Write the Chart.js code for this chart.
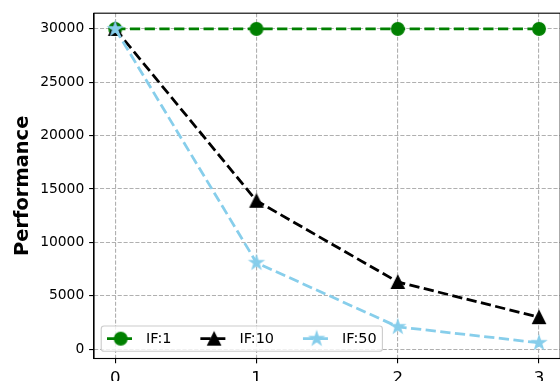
<!DOCTYPE html>
<html>
<head>
<meta charset="utf-8">
<script src="https://cdn.jsdelivr.net/npm/chart.js@4"></script>
<style>
body { margin: 0; overflow: hidden; background: #fff; }
</style>
</head>
<body>
<canvas id="chart" width="570" height="381"></canvas>
<script>
// data
const xValues = [0, 1, 2, 3];
const xTicks = [0, 1, 2, 3];
const xTickLabels = ['0', '1', '2', '3'];
const yTicks = [0, 5000, 10000, 15000, 20000, 25000, 30000];
const yTickLabels = ['0', '5000', '10000', '15000', '20000', '25000', '30000'];
const seriesNames = ['IF:1', 'IF:10', 'IF:50'];
const if1 = [30000, 30000, 30000, 30000];
const if10 = [30000, 13900, 6300, 3000];
const if50 = [30000, 8100, 2100, 600];

const PT = 100 / 72;
const FONT = 'DejaVu Sans';

function markerCanvas(shape, color) {
    const c = document.createElement('canvas');
    c.width = 22; c.height = 22;
    const g = c.getContext('2d');
    const r = 9 * PT / 2;
    g.translate(11, 11);
    g.beginPath();
    if (shape == 'circle') {
        g.arc(0, 0, r, 0, Math.PI * 2);
    } else if (shape == 'triangle') {
        g.moveTo(0, -r); g.lineTo(-r, r); g.lineTo(r, r); g.closePath();
    } else {
        const rs = r * 1.1;
        for (let i = 0; i < 10; i++) {
            const rr = i % 2 ? rs * 0.381966 : rs;
            const a = -Math.PI / 2 + i * Math.PI / 5;
            if (i == 0) g.moveTo(rr * Math.cos(a), rr * Math.sin(a));
            else g.lineTo(rr * Math.cos(a), rr * Math.sin(a));
        }
        g.closePath();
    }
    g.fillStyle = color;
    g.fill();
    g.lineWidth = PT;
    g.strokeStyle = color;
    g.stroke();
    return c;
}

function makeSeries(name, values, color, shape, order) {
    return {
        label: name,
        data: xValues.map((x, i) => ({x: x, y: values[i]})),
        borderColor: color,
        backgroundColor: color,
        borderWidth: 2 * PT,
        borderDash: [3.7 * 2 * PT, 1.6 * 2 * PT],
        pointStyle: markerCanvas(shape, color),
        pointRadius: 7,
        tension: 0,
        order: order
    };
}

const gridOpts = {
    color: '#b0b0b0',
    lineWidth: 0.8 * PT,
    tickColor: '#000',
    tickLength: 3.5 * PT,
    tickWidth: 0.8 * PT,
    tickBorderDash: []
};
const borderOpts = {color: '#000', width: 0.8 * PT, dash: [3.7 * 0.8 * PT, 1.6 * 0.8 * PT]};

const frame = {
    id: 'frame',
    afterDatasetsDraw(chart) {
        const {ctx, chartArea: a} = chart;
        ctx.save();
        ctx.strokeStyle = '#000';
        ctx.lineWidth = 0.8 * PT;
        ctx.strokeRect(a.left, a.top, a.right - a.left, a.bottom - a.top);
        ctx.restore();
    }
};

const legendBox = {
    id: 'legendBox',
    afterDatasetsDraw(chart) {
        const {ctx, chartArea: a} = chart;
        const fs = 10.4 * PT;
        const pad = 0.4 * fs, handle = 1.9 * fs, gap = 0.8 * fs, colSp = 2 * fs, axPad = 0.5 * fs;
        ctx.save();
        ctx.font = fs + 'px "' + FONT + '"';
        const sets = chart.data.datasets;
        const widths = sets.map(d => ctx.measureText(d.label).width);
        let w = 2 * pad + colSp * (sets.length - 1);
        widths.forEach(t => { w += handle + gap + t; });
        const h = 1.75 * fs;
        const x0 = a.left + axPad;
        const y1 = a.bottom - axPad;
        const y0 = y1 - h;
        ctx.beginPath();
        ctx.roundRect(x0, y0, w, h, 0.2 * fs);
        ctx.fillStyle = 'rgba(255,255,255,0.8)';
        ctx.fill();
        ctx.strokeStyle = '#cccccc';
        ctx.lineWidth = 0.8 * PT;
        ctx.stroke();
        const cy = (y0 + y1) / 2;
        let x = x0 + pad;
        sets.forEach((d, i) => {
            ctx.save();
            ctx.strokeStyle = d.borderColor;
            ctx.lineWidth = d.borderWidth;
            ctx.setLineDash(d.borderDash);
            ctx.beginPath();
            ctx.moveTo(x, cy);
            ctx.lineTo(x + handle, cy);
            ctx.stroke();
            ctx.restore();
            const m = d.pointStyle;
            ctx.drawImage(m, x + handle / 2 - m.width / 2, cy - m.height / 2);
            ctx.fillStyle = '#000';
            ctx.textBaseline = 'middle';
            ctx.fillText(d.label, x + handle + gap, cy + 1);
            x += handle + gap + widths[i] + colSp;
        });
        ctx.restore();
    }
};

const ctx = document.getElementById('chart').getContext('2d');
const chart = new Chart(ctx, {
    type: 'line',
    data: {
        datasets: [
            makeSeries(seriesNames[0], if1, 'green', 'circle', 3),
            makeSeries(seriesNames[1], if10, '#000000', 'triangle', 2),
            makeSeries(seriesNames[2], if50, '#87CEEB', 'star', 1)
        ]
    },
    options: {
        responsive: false,
        animation: false,
        events: [],
        layout: {padding: {left: 0, top: 11.5, right: 8.75, bottom: 0}},
        plugins: {legend: {display: false}, tooltip: {enabled: false}},
        scales: {
            x: {
                type: 'linear',
                min: -0.15,
                max: 3.15,
                afterBuildTicks: s => { s.ticks = xTicks.map(v => ({value: v})); },
                afterFit: s => { s.height = 22.5; },
                ticks: {
                    font: {family: FONT, size: 12 * PT},
                    color: '#000',
                    padding: 3.5 * PT,
                    maxRotation: 0,
                    autoSkip: false,
                    callback: (v, i) => xTickLabels[i]
                },
                grid: gridOpts,
                border: borderOpts
            },
            y: {
                type: 'linear',
                min: -870,
                max: 31470,
                afterBuildTicks: s => { s.ticks = yTicks.map(v => ({value: v})); },
                afterFit: s => { s.width = 94; },
                ticks: {
                    font: {family: FONT, size: 10 * PT},
                    color: '#000',
                    padding: 3.5 * PT,
                    autoSkip: false,
                    callback: (v, i) => yTickLabels[i]
                },
                grid: gridOpts,
                border: borderOpts,
                title: {
                    display: true,
                    text: 'Performance',
                    color: '#000',
                    font: {family: FONT, size: 14 * PT, weight: 'bold'},
                    padding: {top: 11, bottom: 0}
                }
            }
        }
    },
    plugins: [frame, legendBox]
});
</script>
</body>
</html>
